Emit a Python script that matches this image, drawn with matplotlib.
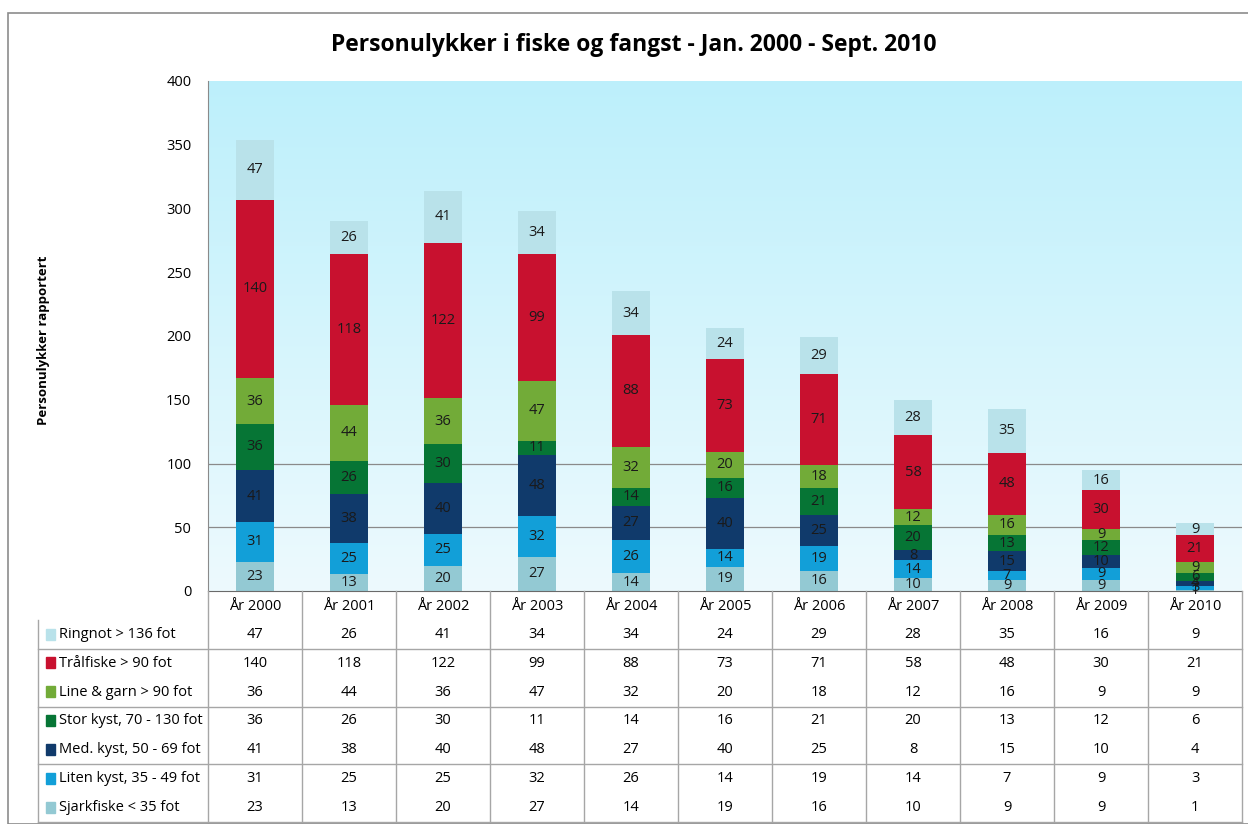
import numpy as np
import matplotlib.pyplot as plt
from matplotlib.patches import Rectangle

# Data (bottom segment first)
years = ["År 2000", "År 2001", "År 2002", "År 2003", "År 2004", "År 2005",
         "År 2006", "År 2007", "År 2008", "År 2009", "År 2010"]
sjark = [23, 13, 20, 27, 14, 19, 16, 10, 9, 9, 1]
liten = [31, 25, 25, 32, 26, 14, 19, 14, 7, 9, 3]
med = [41, 38, 40, 48, 27, 40, 25, 8, 15, 10, 4]
stor = [36, 26, 30, 11, 14, 16, 21, 20, 13, 12, 6]
line = [36, 44, 36, 47, 32, 20, 18, 12, 16, 9, 9]
tral = [140, 118, 122, 99, 88, 73, 71, 58, 48, 30, 21]
ringnot = [47, 26, 41, 34, 34, 24, 29, 28, 35, 16, 9]

series = [
    ("Sjarkfiske < 35 fot", sjark, "#93c9d3"),
    ("Liten kyst, 35 - 49 fot", liten, "#129fd8"),
    ("Med. kyst, 50 - 69 fot", med, "#103a6b"),
    ("Stor kyst, 70 - 130 fot", stor, "#067535"),
    ("Line & garn > 90 fot", line, "#72ab38"),
    ("Trålfiske > 90 fot", tral, "#c8112f"),
    ("Ringnot > 136 fot", ringnot, "#b9e2ea"),
]

W, H = 1248, 824
plt.rcParams["font.family"] = ["Open Sans", "DejaVu Sans"]
fig = plt.figure(figsize=(W / 100, H / 100), dpi=100)

# outer frame
fig.patches.append(Rectangle((8 / W, 0), 1.2, 1 - 13 / H, transform=fig.transFigure,
                             fill=False, edgecolor="#8c8c8c", linewidth=1.2))

left, right = 208 / W, 1242 / W
ax = fig.add_axes([left, 1 - 591 / H, right - left, (591 - 81) / H])
x = np.arange(len(years))

# gradient background
grad = np.linspace(0, 1, 256).reshape(-1, 1)
top_c = np.array([0.74, 0.94, 0.985])
bot_c = np.array([0.93, 0.98, 0.995])
img = bot_c + (top_c - bot_c) * grad
ax.imshow(img[:, None, :].repeat(2, axis=1), extent=[-0.5, 10.5, 0, 400],
          origin="lower", aspect="auto", zorder=0)

for yv in [50, 100]:
    ax.axhline(yv, color="#8a8a8a", lw=0.9, zorder=1)

bottom = np.zeros(len(years))
for name, vals, col in series:
    vals = np.array(vals)
    ax.bar(x, vals, 0.41, bottom=bottom, color=col, zorder=2)
    for xi, v, b in zip(x, vals, bottom):
        ax.text(xi, b + v / 2, str(v), ha="center", va="center",
                fontsize=10.5, color="#1a1a1a", zorder=3)
    bottom += vals

ax.set_xlim(-0.5, 10.5)
ax.set_ylim(0, 400)
ax.set_yticks(range(0, 401, 50))
ax.set_xticks([])
ax.tick_params(axis="y", length=0, labelsize=10.5, pad=12)
for s in ["top", "right"]:
    ax.spines[s].set_visible(False)
ax.spines["left"].set_color("#8a8a8a")
ax.spines["bottom"].set_color("#6a6a6a")

fig.text(44 / W, 1 - 340 / H, "Personulykker rapportert", rotation=90,
         ha="center", va="center", fontsize=9.5, fontweight="bold")
fig.text(634 / W, 1 - 45 / H, "Personulykker i fiske og fangst - Jan. 2000 - Sept. 2010",
         ha="center", va="center", fontsize=16.5, fontweight="bold")

# data table under the chart
tab = fig.add_axes([left, 1 - 822 / H, right - left, (822 - 591) / H])
tab.set_xlim(-0.5, 10.5)
tab.set_ylim(8, 0)
tab.axis("off")
gc = "#a6a6a6"
lab_x = -0.5 - (208 - 38) / 94
for xi in range(len(years)):
    tab.text(xi, 0.55, years[xi], ha="center", va="center", fontsize=10.5)
    tab.plot([xi + 0.5, xi + 0.5], [0, 8], color=gc, lw=1, clip_on=False)
tab.plot([-0.5, -0.5], [0, 8], color=gc, lw=1, clip_on=False)
tab.plot([lab_x, lab_x], [1, 8], color=gc, lw=1, clip_on=False)
for yl in [2, 4, 6, 8]:
    tab.plot([lab_x, 10.5], [yl, yl], color=gc, lw=1, clip_on=False)

for r, (name, vals, col) in enumerate(reversed(series)):
    yc = r + 1.5
    tab.add_patch(Rectangle((lab_x + 0.08, yc - 0.2), 0.1, 0.38, color=col, clip_on=False))
    tab.text(lab_x + 0.22, yc, name, ha="left", va="center", fontsize=10.5, clip_on=False)
    for xi, v in enumerate(vals):
        tab.text(xi, yc, str(v), ha="center", va="center", fontsize=10.5)

fig.savefig("out.png", dpi=100)
